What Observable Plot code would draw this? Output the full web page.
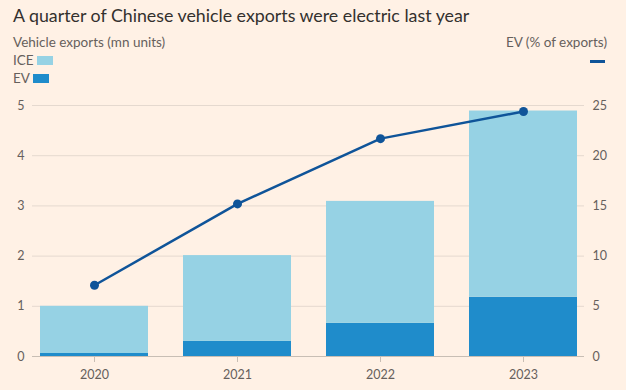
<!DOCTYPE html>
<html><head><meta charset="utf-8">
<script src="https://cdn.jsdelivr.net/npm/d3@7"></script>
<script src="https://cdn.jsdelivr.net/npm/@observablehq/plot@0.6"></script>
<style>
html,body{margin:0;padding:0;background:#FFF1E5;}
#wrap{position:relative;width:626px;height:390px;overflow:hidden;font-family:Lato,"Noto Sans",sans-serif;color:#66605c;}
.title{position:absolute;left:13px;top:4px;font-size:17.8px;color:#33302e;white-space:nowrap;}
.sub{position:absolute;left:13px;top:34px;font-size:13.5px;white-space:nowrap;}
.subr{position:absolute;right:19px;top:34px;font-size:13.5px;white-space:nowrap;}
.leg{position:absolute;left:13px;font-size:13.5px;white-space:nowrap;display:flex;align-items:center;}
.sw{display:inline-block;width:16px;height:9px;margin-left:3px;}
.lsw{position:absolute;right:21px;top:60px;width:15px;height:3px;background:#0f5499;}
#chart{position:absolute;left:0;top:92px;}
</style></head>
<body><div id="wrap">
<div class="title">A quarter of Chinese vehicle exports were electric last year</div>
<div class="sub">Vehicle exports (mn units)</div>
<div class="subr">EV (% of exports)</div>
<div class="lsw"></div>
<div class="leg" style="top:52px">ICE<span class="sw" style="background:#96d2e4"></span></div>
<div class="leg" style="top:70px">EV<span class="sw" style="background:#1f8ccb"></span></div>
<div id="chart"></div>
</div>
<script>
const years = ["2020", "2021", "2022", "2023"];
const evExports = [0.06, 0.30, 0.66, 1.18];
const iceExports = [0.94, 1.71, 2.43, 3.71];
const evShare = [7.1, 15.2, 21.7, 24.4];
const leftTicks = [0, 1, 2, 3, 4, 5];
const rightTicks = [0, 5, 10, 15, 20, 25];

const colors = {ICE: "#96d2e4", EV: "#1f8ccb"};
const stacked = [];
years.forEach((y, i) => {
  stacked.push({year: y, type: "EV", value: evExports[i]});
  stacked.push({year: y, type: "ICE", value: iceExports[i]});
});
const shareRows = years.map((y, i) => ({year: y, share: evShare[i]}));
const rightScale = rightTicks[rightTicks.length - 1] / leftTicks[leftTicks.length - 1];

const chart = Plot.plot({
  width: 626,
  height: 298,
  marginTop: 13,
  marginBottom: 34,
  marginLeft: 32,
  marginRight: 42,
  style: {background: "transparent", fontFamily: "Lato, 'Noto Sans', sans-serif", fontSize: "12.5px", color: "#66605c"},
  x: {domain: years, paddingInner: 0.245, paddingOuter: 0.0525, label: null},
  y: {domain: [0, 5], label: null},
  color: {domain: ["EV", "ICE"], range: [colors.EV, colors.ICE]},
  marks: [
    Plot.gridY(leftTicks.slice(1), {stroke: "#e5d9cf", strokeOpacity: 1}),
    Plot.barY(stacked, Plot.stackY({x: "year", y: "value", fill: "type", order: ["EV", "ICE"]})),
    Plot.ruleY([0], {stroke: "#c8beb4"}),
    Plot.axisX({tickSize: 6, tickPadding: 8, stroke: "#c8beb4", fontSize: 12.5, fill: "#66605c"}),
    Plot.axisY({anchor: "left", ticks: leftTicks, tickFormat: d => String(d), tickSize: 0, tickPadding: 8, fontSize: 12.5, label: null, fill: "#66605c"}),
    Plot.axisY({anchor: "right", ticks: leftTicks, tickFormat: d => String(d * rightScale), tickSize: 0, tickPadding: 8, fontSize: 12.5, label: null, fill: "#66605c"}),
    Plot.line(shareRows, {x: "year", y: d => d.share / rightScale, stroke: "#0f5499", strokeWidth: 2.5}),
    Plot.dot(shareRows, {x: "year", y: d => d.share / rightScale, fill: "#0f5499", r: 4.5})
  ]
});
document.getElementById("chart").appendChild(chart);
</script>
</body></html>
